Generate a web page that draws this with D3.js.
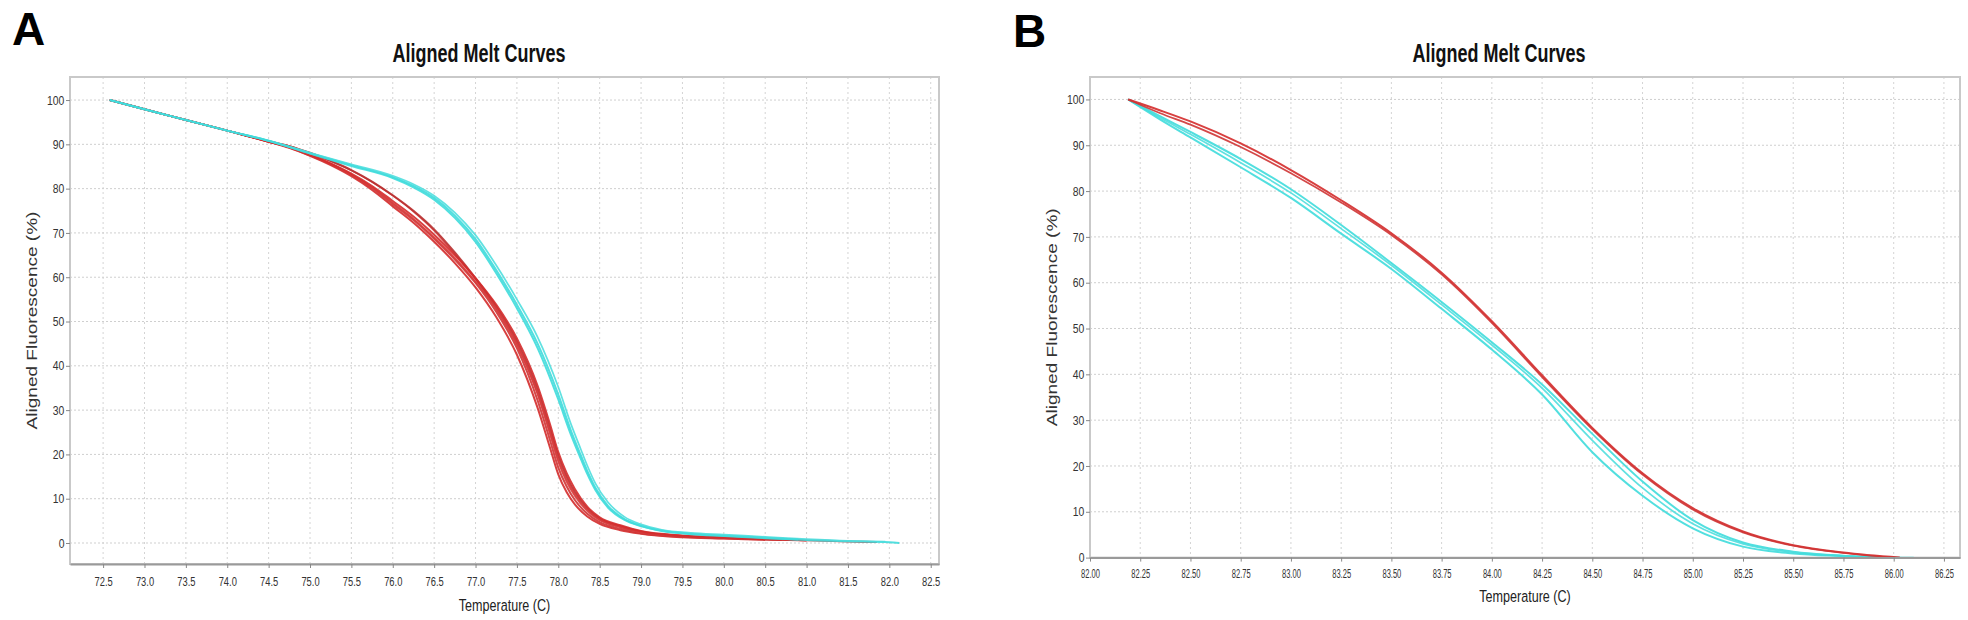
<!DOCTYPE html>
<html><head><meta charset="utf-8">
<script src="https://cdn.jsdelivr.net/npm/d3@7/dist/d3.min.js"></script>
<style>body{margin:0;background:#fff;} svg{display:block;font-family:"Liberation Sans",Arial,sans-serif;}</style>
</head><body><svg id="c" width="1968" height="620"></svg>
<script>
// ---------- Panel A data (Temperature °C, Aligned Fluorescence %) ----------
const aTicksX = [72.5,73.0,73.5,74.0,74.5,75.0,75.5,76.0,76.5,77.0,77.5,78.0,78.5,79.0,79.5,80.0,80.5,81.0,81.5,82.0,82.5];
const aTicksY = [0,10,20,30,40,50,60,70,80,90,100];
const aRed1 = [[72.58,100],[73.0,97.9],[73.5,95.5],[74.0,93.1],[74.5,90.6],[74.75,89.2],[75.0,87.4],[75.25,85.3],[75.5,82.8],[75.75,79.7],[76.0,76.0],[76.25,72.3],[76.5,68.0],[76.75,63.2],[77.0,57.7],[77.25,51.0],[77.5,42.5],[77.75,30.5],[77.9,21.5],[78.0,15.5],[78.1,11.5],[78.2,8.7],[78.35,6.0],[78.5,4.3],[78.75,2.9],[79.0,2.1],[79.5,1.3],[80.0,1.0],[80.5,0.7]];
const aRed2 = [[72.58,100],[73.0,97.9],[73.5,95.5],[74.0,93.1],[74.5,90.6],[74.75,89.3],[75.0,87.5],[75.25,85.5],[75.5,83.1],[75.75,80.1],[76.0,76.5],[76.25,72.9],[76.5,68.7],[76.75,64.0],[77.0,58.7],[77.25,52.2],[77.5,44.0],[77.75,32.2],[77.9,23.2],[78.0,17.0],[78.1,12.8],[78.2,9.7],[78.35,6.6],[78.5,4.7],[78.75,3.2],[79.0,2.2],[79.5,1.4],[80.0,1.05],[80.7,0.65]];
const aRed3 = [[72.58,100],[73.0,97.9],[73.5,95.5],[74.0,93.1],[74.5,90.7],[74.75,89.6],[75.0,88.0],[75.25,86.2],[75.5,84.1],[75.75,81.5],[76.0,78.4],[76.25,74.8],[76.5,70.5],[76.75,65.2],[77.0,59.5],[77.25,52.8],[77.5,44.6],[77.75,33.5],[77.9,24.5],[78.0,18.3],[78.1,13.8],[78.2,10.6],[78.35,7.2],[78.5,5.1],[78.75,3.5],[79.0,2.4],[79.5,1.5],[80.0,1.1],[81.0,0.5]];
const aRed4 = [[72.58,100],[73.0,97.9],[73.5,95.5],[74.0,93.1],[74.5,90.7],[74.75,89.6],[75.0,88.1],[75.25,86.3],[75.5,84.2],[75.75,81.6],[76.0,78.5],[76.25,75.0],[76.5,70.8],[76.75,65.6],[77.0,59.8],[77.25,53.4],[77.5,45.5],[77.75,34.6],[77.9,25.8],[78.0,19.6],[78.1,15.0],[78.2,11.5],[78.35,7.8],[78.5,5.5],[78.75,3.8],[79.0,2.6],[79.5,1.6],[80.0,1.2],[81.0,0.6],[81.85,0.2]];
const aRed5 = [[72.58,100],[73.0,97.9],[73.5,95.5],[74.0,93.1],[74.5,90.6],[74.75,89.3],[75.0,87.6],[75.25,85.6],[75.5,83.2],[75.75,80.3],[76.0,76.8],[76.25,73.2],[76.5,69.0],[76.75,64.4],[77.0,59.0],[77.25,52.9],[77.5,45.0],[77.75,33.8],[77.9,25.0],[78.0,18.8],[78.1,14.3],[78.2,11.0],[78.35,7.5],[78.5,5.3],[78.75,3.7],[79.0,2.5],[79.5,1.6],[80.0,1.2],[80.6,0.8]];
const aRed6 = [[72.58,100],[73.0,97.9],[73.5,95.5],[74.0,93.1],[74.5,90.6],[74.75,89.4],[75.0,87.7],[75.25,85.7],[75.5,83.4],[75.75,80.6],[76.0,77.2],[76.25,73.7],[76.5,69.6],[76.75,65.0],[77.0,59.8],[77.25,53.8],[77.5,46.2],[77.75,35.5],[77.9,26.8],[78.0,20.5],[78.1,15.8],[78.2,12.2],[78.35,8.2],[78.5,5.8],[78.75,4.0],[79.0,2.7],[79.5,1.7],[80.0,1.3],[80.5,0.9],[81.0,0.6]];
const aCyan1 = [[72.58,100],[73.0,97.9],[73.5,95.5],[74.0,93.1],[74.5,90.8],[75.0,88.0],[75.5,85.3],[76.0,82.6],[76.25,80.6],[76.5,77.9],[76.75,73.9],[77.0,68.6],[77.25,61.6],[77.5,53.8],[77.75,45.0],[78.0,33.5],[78.15,25.5],[78.25,20.8],[78.35,16.3],[78.45,12.4],[78.6,8.4],[78.8,5.4],[79.0,3.9],[79.25,2.8],[79.6,2.1],[80.0,1.7],[80.5,1.2],[81.0,0.7],[81.5,0.4],[82.0,0.15],[82.12,0]];
const aCyan2 = [[72.58,100],[73.0,97.9],[73.5,95.5],[74.0,93.1],[74.5,90.8],[75.0,88.1],[75.5,85.5],[76.0,82.9],[76.25,81.0],[76.5,78.4],[76.75,74.6],[77.0,69.5],[77.25,62.7],[77.5,55.0],[77.75,46.5],[78.0,35.2],[78.15,27.0],[78.25,22.2],[78.35,17.5],[78.45,13.4],[78.6,9.2],[78.8,5.9],[79.0,4.2],[79.25,3.0],[79.6,2.3],[80.0,1.9],[80.5,1.4],[81.0,0.9],[81.5,0.5],[81.95,0.3]];
const aCyan3 = [[72.58,100],[73.0,97.9],[73.5,95.5],[74.0,93.1],[74.5,90.8],[75.0,87.9],[75.5,85.1],[76.0,82.4],[76.25,80.3],[76.5,77.5],[76.75,73.4],[77.0,68.0],[77.25,60.9],[77.5,53.0],[77.75,44.0],[78.0,32.4],[78.15,24.6],[78.25,20.0],[78.35,15.6],[78.45,11.9],[78.6,8.0],[78.8,5.2],[79.0,3.8],[79.25,2.7],[79.6,2.0],[80.0,1.6],[80.5,1.1],[80.9,0.8]];

// ---------- Panel B data ----------
const bTicksX = [82.00,82.25,82.50,82.75,83.00,83.25,83.50,83.75,84.00,84.25,84.50,84.75,85.00,85.25,85.50,85.75,86.00,86.25];
const bTicksY = [0,10,20,30,40,50,60,70,80,90,100];
const bRed1 = [[82.19,100],[82.35,97.6],[82.5,95.2],[82.75,90.4],[83.0,84.6],[83.25,78.0],[83.5,70.8],[83.75,62.2],[84.0,51.6],[84.25,39.8],[84.5,28.3],[84.75,18.4],[85.0,10.8],[85.25,5.7],[85.5,2.7],[85.75,1.1],[86.03,0]];
const bRed2 = [[82.19,100],[82.35,97.0],[82.5,94.5],[82.75,89.6],[83.0,83.9],[83.25,77.5],[83.5,70.4],[83.75,61.8],[84.0,51.2],[84.25,39.4],[84.5,28.0],[84.75,18.1],[85.0,10.5],[85.25,5.5],[85.5,2.6],[85.75,1.0],[86.0,0]];
const bCyan1 = [[82.19,100],[82.35,96.3],[82.5,92.9],[82.75,87.0],[83.0,80.4],[83.25,72.6],[83.5,64.3],[83.75,55.8],[84.0,47.0],[84.25,37.8],[84.5,27.0],[84.75,16.6],[85.0,8.2],[85.25,3.3],[85.5,1.3],[85.75,0.4],[85.92,0]];
const bCyan2 = [[82.19,100],[82.35,96.0],[82.5,92.4],[82.75,86.2],[83.0,79.6],[83.25,71.8],[83.5,63.8],[83.75,55.2],[84.0,46.4],[84.25,37.0],[84.5,25.6],[84.75,15.2],[85.0,7.4],[85.25,3.0],[85.5,1.2],[85.75,0.4],[86.1,0]];
const bCyan3 = [[82.19,100],[82.35,95.6],[82.5,91.7],[82.75,85.2],[83.0,78.5],[83.25,70.7],[83.5,63.0],[83.75,54.3],[84.0,45.4],[84.25,35.6],[84.5,23.0],[84.75,13.5],[85.0,6.4],[85.25,2.4],[85.5,0.9],[85.75,0.3],[85.9,0]];

const RED = "#d42b2b", CYAN = "#3fdcdc";
const svg = d3.select("#c");

function panel(c) {
  const x = d3.scaleLinear().domain(c.xDomain).range([c.left, c.right]);
  const y = d3.scaleLinear().domain(c.yDomain).range([c.bottom, c.top]);
  const g = svg.append("g");
  g.selectAll(".vg").data(c.xTicks).join("line")
    .attr("x1", d => x(d)).attr("x2", d => x(d)).attr("y1", c.top).attr("y2", c.bottom)
    .attr("stroke", "#d4d4d4").attr("stroke-dasharray", "2,3").attr("stroke-width", 1);
  g.selectAll(".hg").data(c.yTicks).join("line")
    .attr("x1", c.left).attr("x2", c.right).attr("y1", d => y(d)).attr("y2", d => y(d))
    .attr("stroke", "#cfcfcf").attr("stroke-dasharray", "2,2").attr("stroke-width", 1);
  g.append("rect").attr("x", c.left).attr("y", c.top).attr("width", c.right - c.left).attr("height", c.bottom - c.top)
    .attr("fill", "none").attr("stroke", "#c9c9c9").attr("stroke-width", 2);
  const line = d3.line().x(d => x(d[0])).y(d => y(d[1])).curve(d3.curveMonotoneX);
  c.curves.forEach(cv => {
    g.append("path").attr("d", line(cv.data)).attr("fill", "none")
      .attr("stroke", cv.color).attr("stroke-width", cv.w || 2).attr("stroke-opacity", cv.op || 0.9)
      .attr("stroke-linejoin", "round");
  });
  const ax = g.append("g").attr("transform", `translate(0,${c.bottom})`)
    .call(d3.axisBottom(x).tickValues(c.xTicks).tickFormat(c.xFmt).tickSize(4).tickSizeOuter(0));
  ax.select(".domain").attr("stroke", "#9a9a9a").attr("stroke-width", 2);
  ax.selectAll(".tick line").attr("stroke", "#888");
  ax.selectAll("text").attr("y", c.xLabY).attr("font-size", 13).attr("fill", "#333")
    .attr("font-family", "Liberation Sans, Arial, sans-serif").attr("transform", `scale(${c.xLabS},1)`);
  const ay = g.append("g").attr("transform", `translate(${c.left},0)`)
    .call(d3.axisLeft(y).tickValues(c.yTicks).tickFormat(d3.format("d")).tickSize(4).tickSizeOuter(0));
  ay.select(".domain").attr("stroke", "none");
  ay.selectAll(".tick line").attr("stroke", "#888");
  ay.selectAll("text").attr("x", -7).attr("font-size", 13).attr("fill", "#333")
    .attr("font-family", "Liberation Sans, Arial, sans-serif").attr("transform", "scale(0.8,1)");
  svg.append("text").attr("transform", `translate(${c.titleX},62) scale(0.72,1)`)
    .attr("text-anchor", "middle").attr("font-size", 25).attr("font-weight", "bold").attr("fill", "#111")
    .text("Aligned Melt Curves");
  svg.append("text").attr("transform", `translate(${(c.left + c.right) / 2},${c.xTitleY}) scale(0.74,1)`)
    .attr("text-anchor", "middle").attr("font-size", 17).attr("fill", "#222").text("Temperature (C)");
  svg.append("text").attr("transform", `translate(${c.yTitleX},${(c.top + c.bottom) / 2}) rotate(-90) scale(1.27,1)`)
    .attr("text-anchor", "middle").attr("font-size", 15).attr("fill", "#333").text("Aligned Fluorescence (%)");
  svg.append("text").attr("x", c.letterX).attr("y", c.letterY).attr("font-size", 46).attr("font-weight", "bold")
    .attr("fill", "#000").text(c.letter);
}

panel({
  left: 70, right: 939, top: 77, bottom: 564,
  xDomain: [72.1, 82.6], yDomain: [-4.74, 105.2],
  xTicks: aTicksX, yTicks: aTicksY, xFmt: d3.format(".1f"), xLabY: 13, xLabS: 0.72,
  titleX: 479, xTitleY: 611, yTitleX: 37, letter: "A", letterX: 12, letterY: 45,
  curves: [
    {data: aRed1, color: RED}, {data: aRed2, color: "#cf3434"}, {data: aRed3, color: "#d64040", w: 1.6},
    {data: aRed4, color: "#b83030"}, {data: aRed5, color: "#d83a3a", w: 1.6}, {data: aRed6, color: RED},
    {data: aCyan1, color: CYAN}, {data: aCyan2, color: "#4fdede", w: 1.7}, {data: aCyan3, color: CYAN}
  ]
});
panel({
  left: 1090, right: 1960, top: 77, bottom: 557.6,
  xDomain: [82.0, 86.33], yDomain: [0, 104.9],
  xTicks: bTicksX, yTicks: bTicksY, xFmt: d3.format(".2f"), xLabY: 11, xLabS: 0.58,
  titleX: 1499, xTitleY: 602, yTitleX: 1057, letter: "B", letterX: 1013, letterY: 47,
  curves: [
    {data: bCyan1, color: CYAN}, {data: bCyan2, color: "#4fdede", w: 1.7}, {data: bCyan3, color: CYAN},
    {data: bRed1, color: RED}, {data: bRed2, color: "#cf3434", w: 1.7}
  ]
});
</script></body></html>
